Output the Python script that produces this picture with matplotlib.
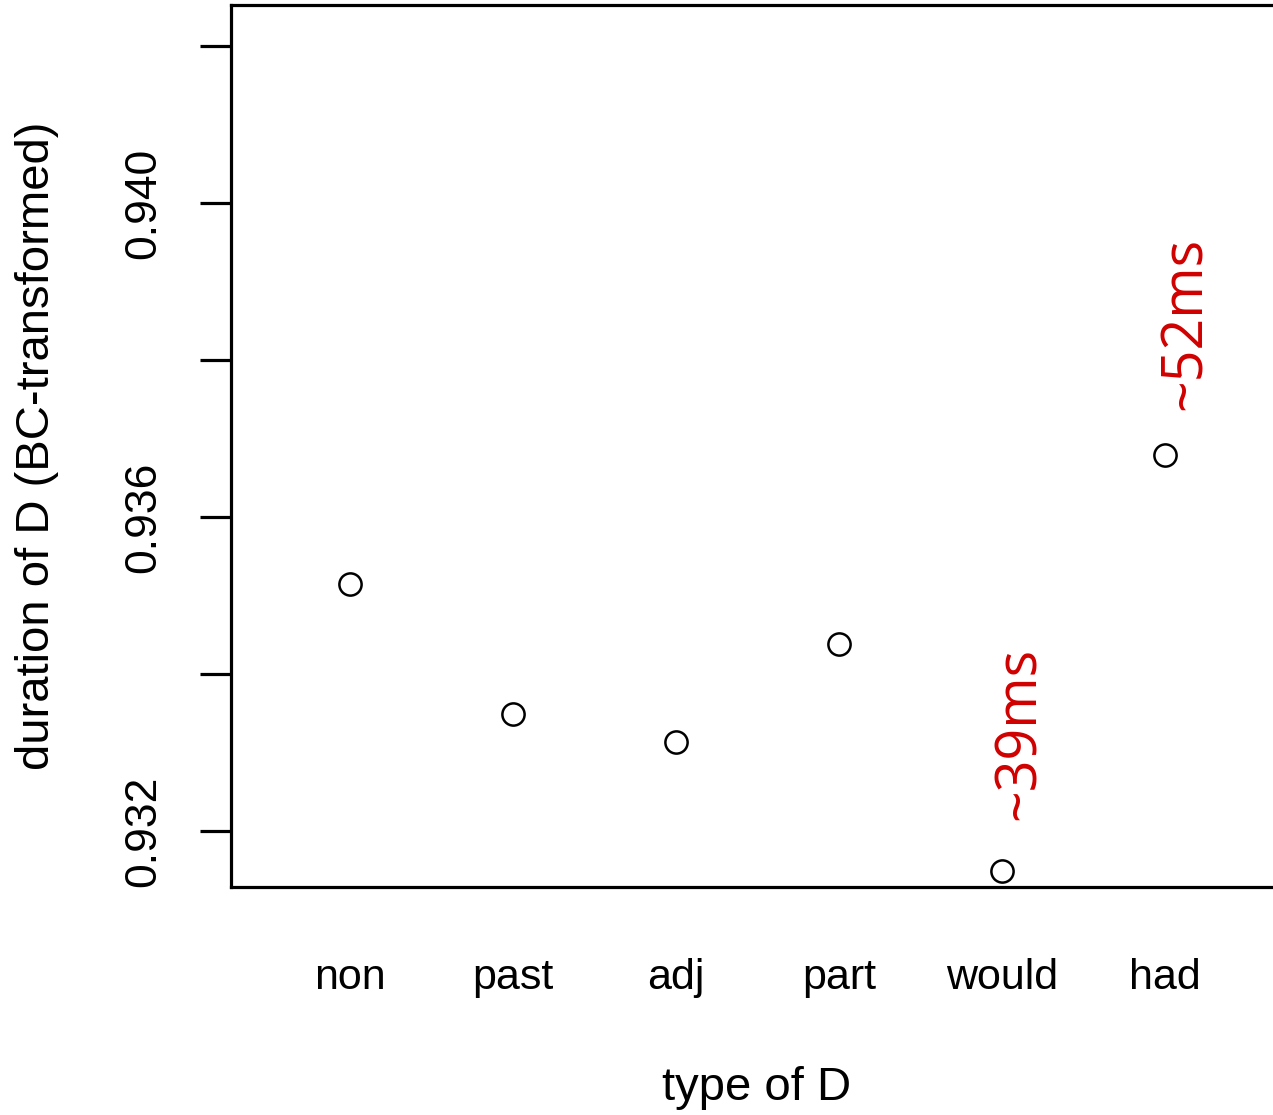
import matplotlib
matplotlib.use('Agg')
import matplotlib.pyplot as plt

# group means
types = ['non', 'past', 'adj', 'part', 'would', 'had']
means = [0.93515, 0.93349, 0.93313, 0.93438, 0.93149, 0.93679]

# red notes beside two of the points
notes = ['~39ms', '~52ms']
note_at = [(5.11, 0.93214), (6.13, 0.93736)]

plt.rcParams['font.family'] = ['Liberation Sans', 'DejaVu Sans']

fig = plt.figure(figsize=(12.73, 11.15), dpi=100)
ax = fig.add_axes([231/1273, 228/1115, 1.01 - 231/1273, 882/1115])

x = list(range(1, len(types)+1))
ax.plot(x, means, 'o', mfc='none', mec='black', ms=16, mew=1.8)

ax.set_xlim(0.27, 6.74)
ax.set_ylim(0.931287, 0.942522)

ax.set_xticks(x)
ax.set_xticklabels(types, fontsize=31)
ax.tick_params(axis='x', length=0, pad=51)

ax.set_yticks([0.932, 0.934, 0.936, 0.938, 0.940, 0.942])
ax.set_yticklabels(['0.932', '', '0.936', '', '0.940', ''], rotation=90,
                   va='center', fontsize=32)
ax.tick_params(axis='y', length=22, width=2.3, pad=26)

for s in ax.spines.values():
    s.set_linewidth(2.3)

fig.text(37/1273, 1 - 446/1115, 'duration of D (BC-transformed)', rotation=90,
         ha='center', va='center', fontsize=34)
fig.text(757/1273, 1 - 1088/1115, 'type of D', ha='center', va='center', fontsize=34)

for t, (nx, ny) in zip(notes, note_at):
    ax.text(nx, ny, t, rotation=90, ha='center', va='bottom', color='#D00000',
            fontsize=40, family=['Open Sans', 'DejaVu Sans'])

fig.savefig('out.png', dpi=100)
